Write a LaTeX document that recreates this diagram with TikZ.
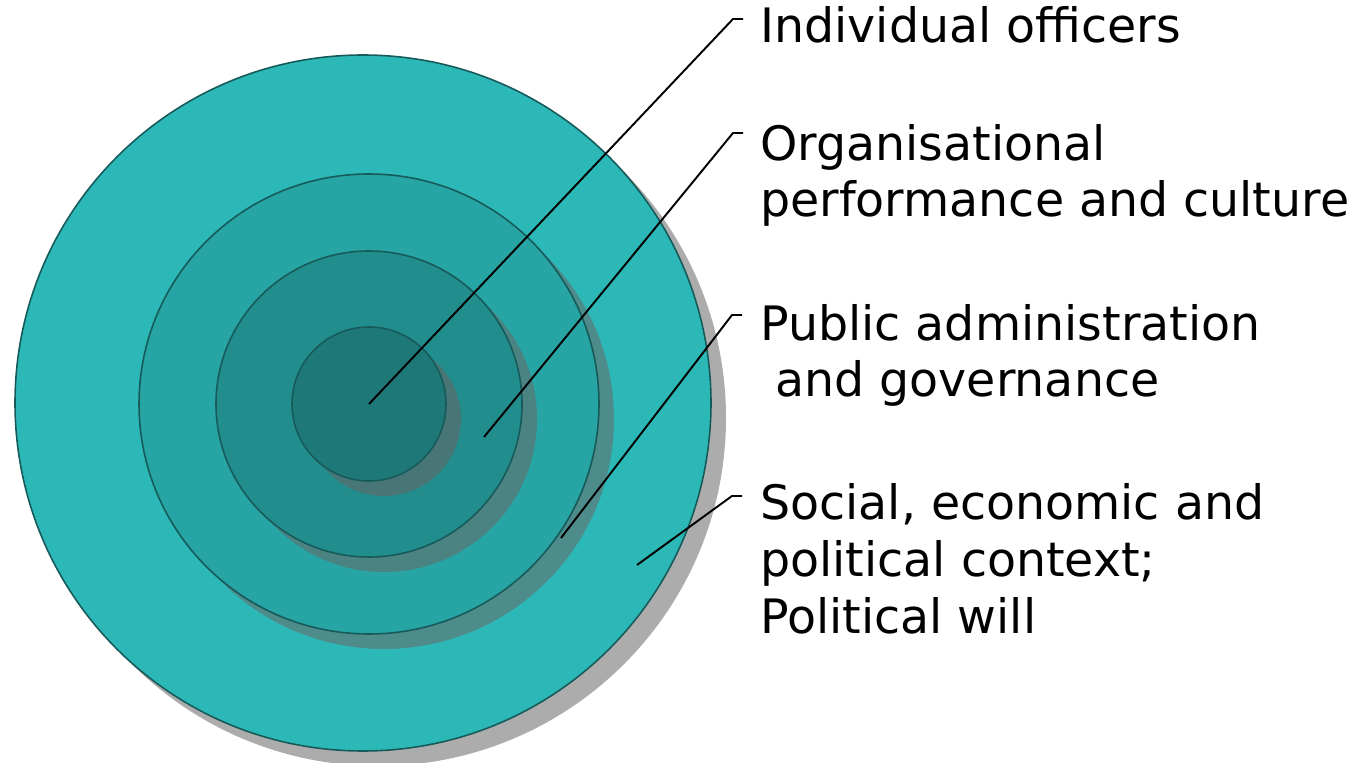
\documentclass[tikz,border=0pt]{standalone}
\usepackage{fontspec}
\setmainfont{DejaVu Sans}
\usepackage{tikz}

\definecolor{ringD}{RGB}{45,184,184}
\definecolor{ringC}{RGB}{39,164,164}
\definecolor{ringB}{RGB}{34,141,141}
\definecolor{ringA}{RGB}{30,120,120}
\definecolor{rim}{RGB}{22,90,90}
% shadows, as they look on the ring below
\definecolor{shadeW}{RGB}{172,172,172}
\definecolor{shadeD}{RGB}{78,139,139}
\definecolor{shadeC}{RGB}{75,130,130}
\definecolor{shadeB}{RGB}{72,118,118}

\begin{document}
\begin{tikzpicture}[x=0.02cm,y=-0.02cm]
\useasboundingbox (0,0) rectangle (1370,763);

% outer ring and its shadow
\fill [shadeW] (378,418) circle (348);
\filldraw [fill=ringD, draw=rim, line width=0.9pt] (363,403) circle (348);

% inner rings, each with a shadow
\foreach \r/\c/\s in {230/ringC/shadeD, 153/ringB/shadeC, 77/ringA/shadeB}
{
	\fill [\s, shift={(15,15)}] (369,404) circle (\r);
	\filldraw [fill=\c, draw=rim, line width=0.9pt] (369,404) circle (\r);
}

% labels (base = baseline of the last line)
\node (officers) [anchor=base west, inner sep=0pt, align=left, font=\fontsize{27}{32.4}\selectfont] at (760,43) {Individual officers};
\node (culture) [anchor=base west, inner sep=0pt, align=left, font=\fontsize{27}{32.4}\selectfont] at (760,217) {Organisational\\performance and culture};
\node (governance) [anchor=base west, inner sep=0pt, align=left, font=\fontsize{27}{32.4}\selectfont] at (760,397) {Public administration\\\ and governance};
\node (context) [anchor=base west, inner sep=0pt, align=left, font=\fontsize{27}{32.4}\selectfont] at (760,633) {Social, economic and\\political context;\\Political will};

% leader lines
\coordinate (pinA) at (369,404);
\coordinate (pinB) at (484,437);
\coordinate (pinC) at (561,538);
\coordinate (pinD) at (637,565);

\coordinate (bendA) at (733,19);
\coordinate (bendB) at (733,133);
\coordinate (bendC) at (732,315);
\coordinate (bendD) at (732,496);

\draw [line width=1.1pt] (pinA) -- (bendA) -- ++(10,0);
\draw [line width=1.1pt] (pinB) -- (bendB) -- ++(10,0);
\draw [line width=1.1pt] (pinC) -- (bendC) -- ++(10,0);
\draw [line width=1.1pt] (pinD) -- (bendD) -- ++(10,0);
\end{tikzpicture}
\end{document}
